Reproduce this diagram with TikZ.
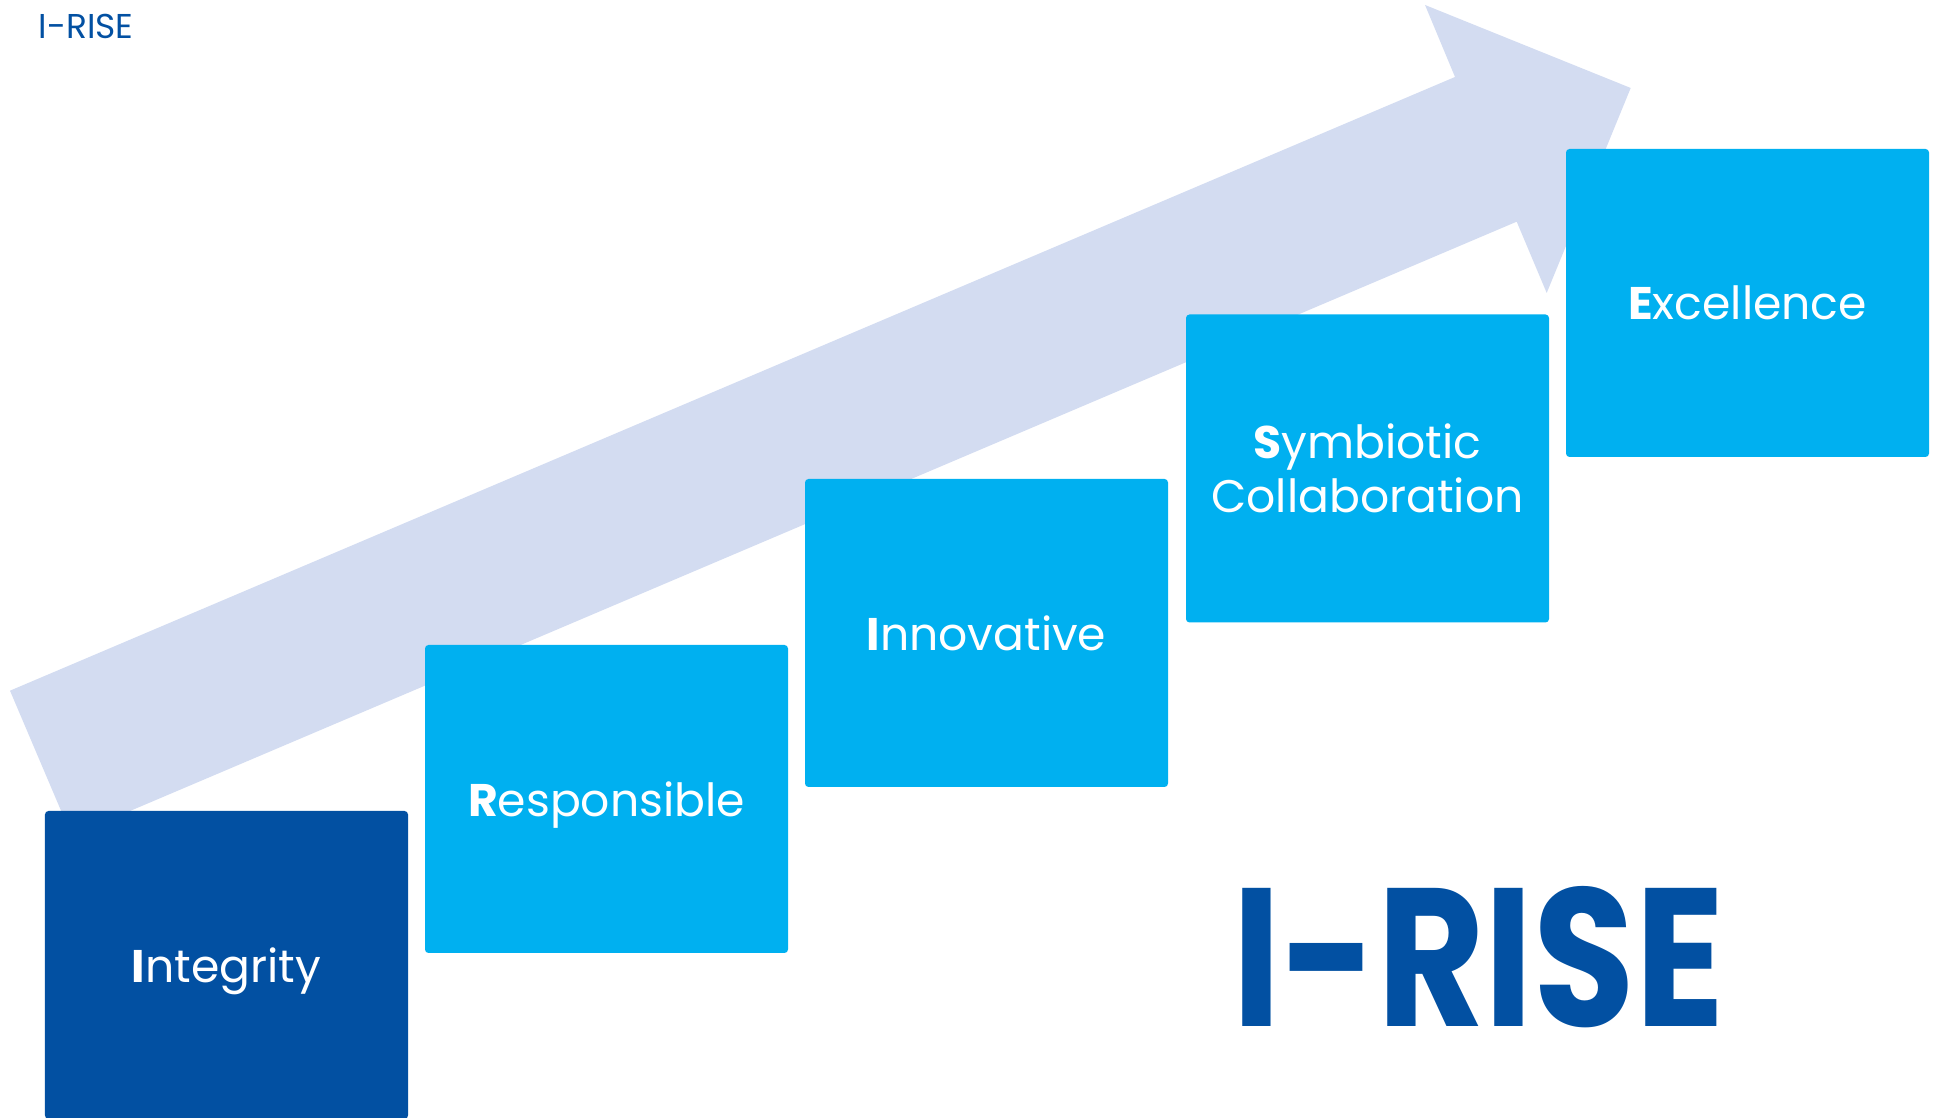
\documentclass[tikz,border=0pt]{standalone}
\usepackage{fontspec}
\setmainfont{Poppins}
\newfontfamily\brandfont{Poppins}

\definecolor{irisedark}{RGB}{2,80,162}
\definecolor{iriselight}{RGB}{0,176,240}
\definecolor{iriseshade}{RGB}{211,220,241}

\begin{document}
\begin{tikzpicture}[stepbox/.style={rectangle,fill=iriselight,rounded corners=1pt,minimum width=3.63cm,minimum height=3.08cm,inner sep=0pt,text=white,align=center,text depth=0pt,font=\fontsize{13}{15.3}\selectfont}]

    \useasboundingbox (0,0) rectangle (19.42,11.18);

    % rising arrow behind the steps
    \fill[iriseshade] (0.10,4.273) -- (14.55,10.41) -- (14.25,11.13) -- (16.307,10.30)
        -- (15.467,8.25) -- (15.167,8.963) -- (0.717,2.822) -- cycle;

    \node[stepbox,fill=irisedark] (integrity) at (2.265,1.53) {\textbf{I}ntegrity};
    \node[stepbox] (responsible) at (6.065,3.19) {\textbf{R}esponsible};
    \node[stepbox] (innovative) at (9.865,4.85) {\textbf{I}nnovative};
    \node[stepbox] (symbiotic) at (13.675,6.495) {\textbf{S}ymbiotic\\Collaboration};
    \node[stepbox] (excellence) at (17.475,8.15) {\textbf{E}xcellence};

    \node[text=irisedark,inner sep=0pt,font=\fontsize{9.8}{12}\selectfont] (title) at (0.86,10.917) {I-RISE};
    \node[text=irisedark,inner sep=0pt,font=\brandfont\bfseries\fontsize{56}{60}\selectfont] (brand) at (14.785,1.613) {\scalebox{0.84}[1]{I-RISE}};

\end{tikzpicture}
\end{document}
